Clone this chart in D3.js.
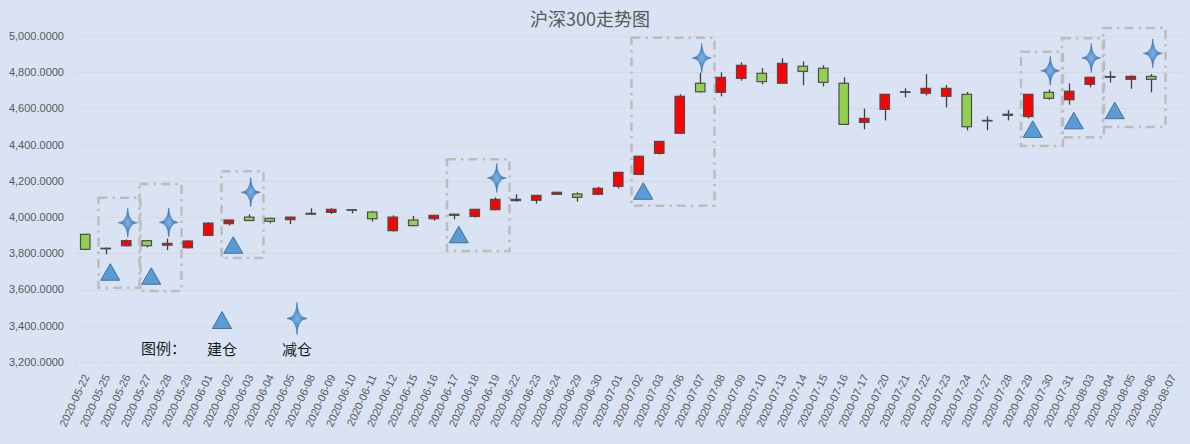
<!DOCTYPE html>
<html>
<head>
<meta charset="utf-8">
<script src="https://cdn.jsdelivr.net/npm/d3@7"></script>
<style>
  body { margin: 0; background: #dae3f3; }
  svg { display: block; }
</style>
</head>
<body>
<svg id="chart" width="1190" height="444"></svg>
<script>
// trading days shown on the category axis
var dates = ['2020-05-22','2020-05-25','2020-05-26','2020-05-27','2020-05-28','2020-05-29',
  '2020-06-01','2020-06-02','2020-06-03','2020-06-04','2020-06-05','2020-06-08','2020-06-09',
  '2020-06-10','2020-06-11','2020-06-12','2020-06-15','2020-06-16','2020-06-17','2020-06-18',
  '2020-06-19','2020-06-22','2020-06-23','2020-06-24','2020-06-29','2020-06-30','2020-07-01',
  '2020-07-02','2020-07-03','2020-07-06','2020-07-07','2020-07-08','2020-07-09','2020-07-10',
  '2020-07-13','2020-07-14','2020-07-15','2020-07-16','2020-07-17','2020-07-20','2020-07-21',
  '2020-07-22','2020-07-23','2020-07-24','2020-07-27','2020-07-28','2020-07-29','2020-07-30',
  '2020-07-31','2020-08-03','2020-08-04','2020-08-05','2020-08-06','2020-08-07'];

// OHLC (last day has no data)
var openValues = [3905,3825,3842,3870,3845,3831,3899,3964,4000,3993,3986,4016,4026,4041,4028,3925,
  3984,3991,4010,4004,4041,4091,4093,4126,4128,4126,4170,4236,4352,4463,4739,4689,4766,4794,4739,
  4833,4822,4739,4523,4595,4689,4684,4667,4678,4531,4562,4555,4689,4648,4733,4772,4761,4777,null];
var highValues = [3908,3832,3877,3872,3881,3873,3971,3988,4015,3996,4002,4049,4049,4045,4035,4010,
  4006,4012,4018,4046,4109,4126,4122,4140,4137,4168,4250,4338,4420,4678,4797,4799,4855,4822,4877,
  4860,4838,4772,4599,4680,4711,4790,4729,4691,4556,4591,4680,4704,4739,4774,4806,4783,4790,null];
var lowValues = [3817,3795,3838,3833,3818,3826,3897,3953,3978,3966,3962,4014,4017,4021,3975,3920,
  3950,3980,3988,3997,4038,4085,4074,4123,4085,4124,4159,4234,4345,4461,4687,4667,4753,4733,4737,
  4728,4722,4510,4485,4534,4661,4672,4606,4479,4479,4534,4545,4648,4621,4717,4743,4709,4689,null];
var closeValues = [3822,3828,3870,3842,3855,3868,3967,3984,3981,3977,4000,4021,4043,4038,3991,4000,
  3953,4010,4016,4043,4098,4098,4120,4137,4109,4159,4247,4336,4418,4667,4692,4772,4838,4748,4849,
  4805,4744,4512,4545,4678,4692,4711,4711,4499,4534,4568,4678,4656,4695,4772,4776,4777,4761,null];

// 建仓 (build position) markers
var buildDates = ['2020-05-25','2020-05-27','2020-06-02','2020-06-17','2020-07-02','2020-07-29','2020-07-31','2020-08-04'];
var buildValues = [3697,3675,3846,3904,4144,4486,4533,4589];

// 减仓 (reduce position) markers
var reduceDates = ['2020-05-26','2020-05-28','2020-06-03','2020-06-19','2020-07-07','2020-07-30','2020-08-03','2020-08-06'];
var reduceValues = [3969,3971,4137,4216,4879,4808,4879,4904];

// dash-dot frames around each build/reduce pair
var frameFrom = ['2020-05-25','2020-05-27','2020-06-02','2020-06-17','2020-07-02','2020-07-29','2020-07-31','2020-08-04'];
var frameTo = ['2020-05-26','2020-05-28','2020-06-03','2020-06-19','2020-07-07','2020-07-30','2020-08-03','2020-08-06'];
var frameHigh = [4107,4183,4253,4319,4990,4913,4987,5044];
var frameLow = [3610,3592,3774,3813,4063,4393,4441,4497];

var yTicks = [3200,3400,3600,3800,4000,4200,4400,4600,4800,5000];

var svg = d3.select('#chart');
var W = 1190, H = 444;
var margin = {left: 75, right: 8, top: 36, bottom: 82};

var x = d3.scaleBand().domain(dates).range([margin.left, W - margin.right]).padding(0);
var y = d3.scaleLinear().domain([3200, 5000]).range([H - margin.bottom, margin.top]);
var step = x.step();
var fmt = d3.format(',.4f');

svg.append('rect').attr('width', W).attr('height', H).attr('fill', '#dae3f3');

// title
svg.append('text')
  .attr('x', 590).attr('y', 26)
  .attr('text-anchor', 'middle')
  .attr('font-family', '"Noto Sans CJK SC", sans-serif')
  .attr('font-size', 18)
  .attr('fill', '#595959')
  .text('沪深300走势图');

// gridlines + y labels
var yAxis = svg.append('g');
yAxis.selectAll('line').data(yTicks).enter().append('line')
  .attr('x1', margin.left).attr('x2', W - margin.right)
  .attr('y1', function (d) { return Math.round(y(d)) + 0.5; })
  .attr('y2', function (d) { return Math.round(y(d)) + 0.5; })
  .attr('stroke', '#d9d9d9').attr('stroke-width', 1);
yAxis.selectAll('text').data(yTicks).enter().append('text')
  .attr('x', 64).attr('y', function (d) { return y(d); })
  .attr('dy', '0.35em')
  .attr('text-anchor', 'end')
  .attr('font-family', '"Liberation Sans", Arial, sans-serif')
  .attr('font-size', 11)
  .attr('fill', '#595959')
  .text(fmt);

// x axis: ticks between categories
var xAxis = svg.append('g');
var bounds = dates.map(function (d) { return x(d); }).concat([x.range()[1]]);
xAxis.selectAll('line').data(bounds).enter().append('line')
  .attr('x1', function (d) { return Math.round(d) + 0.5; })
  .attr('x2', function (d) { return Math.round(d) + 0.5; })
  .attr('y1', y(3200)).attr('y2', y(3200) + 5)
  .attr('stroke', '#d9d9d9');
xAxis.selectAll('text').data(dates).enter().append('text')
  .attr('transform', function (d) {
    return 'translate(' + (x(d) + step / 2 + 1) + ',' + (y(3200) + 13) + ') rotate(-65)';
  })
  .attr('dy', '0.35em')
  .attr('text-anchor', 'end')
  .attr('font-family', '"Liberation Sans", Arial, sans-serif')
  .attr('font-size', 11)
  .attr('fill', '#595959')
  .text(function (d) { return d; });

// frames
var frames = frameFrom.map(function (f, i) {
  return {from: f, to: frameTo[i], high: frameHigh[i], low: frameLow[i]};
});
svg.append('g').selectAll('rect').data(frames).enter().append('rect')
  .attr('x', function (d) { return x(d.from) + 3; })
  .attr('width', function (d) { return x(d.to) + step + 4 - (x(d.from) + 3); })
  .attr('y', function (d) { return y(d.high); })
  .attr('height', function (d) { return y(d.low) - y(d.high); })
  .attr('fill', 'none')
  .attr('stroke', '#bcbcbc')
  .attr('stroke-width', 2.5)
  .attr('stroke-dasharray', '9,5,2.5,5');

// candlesticks
var candles = dates.map(function (d, i) {
  return {date: d, o: openValues[i], h: highValues[i], l: lowValues[i], c: closeValues[i]};
}).filter(function (d) { return d.o != null; });

var bodyW = 9.5;
var cg = svg.append('g').selectAll('g').data(candles).enter().append('g');
cg.append('line')
  .attr('x1', function (d) { return Math.round(x(d.date) + step / 2) + 0.5; })
  .attr('x2', function (d) { return Math.round(x(d.date) + step / 2) + 0.5; })
  .attr('y1', function (d) { return y(d.h); })
  .attr('y2', function (d) { return y(d.l); })
  .attr('stroke', '#404040').attr('stroke-width', 1.3);
cg.append('rect')
  .attr('x', function (d) { return x(d.date) + step / 2 - bodyW / 2; })
  .attr('width', bodyW)
  .attr('y', function (d) { return y(Math.max(d.o, d.c)); })
  .attr('height', function (d) { return Math.max(0.5, Math.abs(y(d.o) - y(d.c))); })
  .attr('fill', function (d) { return d.c >= d.o ? '#ff0000' : '#92d050'; })
  .attr('stroke', '#4d4d4d').attr('stroke-width', 1.2);

// marker shapes
var defs = svg.append('defs');
var grad = defs.append('radialGradient').attr('id', 'starFill');
grad.append('stop').attr('offset', '0%').attr('stop-color', '#7fb2e3');
grad.append('stop').attr('offset', '55%').attr('stop-color', '#4f8cc9');
grad.append('stop').attr('offset', '100%').attr('stop-color', '#2f6aa8');

function trianglePath(w, h) {
  return 'M0,' + (-h / 2) + 'L' + (w / 2) + ',' + (h / 2) + 'L' + (-w / 2) + ',' + (h / 2) + 'Z';
}
function starPath(rx, ry) {
  var k = 0.6;
  return 'M0,' + (-ry) + 'Q' + k + ',' + (-k) + ' ' + rx + ',0' +
    'Q' + k + ',' + k + ' 0,' + ry +
    'Q' + (-k) + ',' + k + ' ' + (-rx) + ',0' +
    'Q' + (-k) + ',' + (-k) + ' 0,' + (-ry) + 'Z';
}

svg.append('g').selectAll('path').data(buildDates).enter().append('path')
  .attr('transform', function (d, i) {
    return 'translate(' + (x(d) + step / 2 + 4.5) + ',' + y(buildValues[i]) + ')';
  })
  .attr('d', trianglePath(19, 16.5))
  .attr('fill', '#5b9bd5').attr('stroke', '#41719c').attr('stroke-width', 1);

svg.append('g').selectAll('path').data(reduceDates).enter().append('path')
  .attr('transform', function (d, i) {
    return 'translate(' + (x(d) + step / 2 + 1.5) + ',' + y(reduceValues[i]) + ')';
  })
  .attr('d', starPath(9.5, 14.5))
  .attr('fill', 'url(#starFill)').attr('stroke', '#2e6aa6').attr('stroke-width', 0.6);

// legend
var lg = svg.append('g')
  .attr('font-family', '"Noto Sans CJK SC", sans-serif')
  .attr('font-size', 15)
  .attr('fill', '#1a1a1a');
lg.append('text').attr('x', 141).attr('y', 349).attr('dy', '0.35em').text('图例：');
lg.append('path').attr('transform', 'translate(222,320)')
  .attr('d', trianglePath(19, 17))
  .attr('fill', '#5b9bd5').attr('stroke', '#41719c').attr('stroke-width', 1);
lg.append('text').attr('x', 222).attr('y', 350).attr('dy', '0.35em').attr('text-anchor', 'middle').text('建仓');
lg.append('path').attr('transform', 'translate(297,318.5)')
  .attr('d', starPath(10, 16))
  .attr('fill', 'url(#starFill)').attr('stroke', '#2e6aa6').attr('stroke-width', 0.6);
lg.append('text').attr('x', 297).attr('y', 350).attr('dy', '0.35em').attr('text-anchor', 'middle').text('减仓');
</script>
</body>
</html>
